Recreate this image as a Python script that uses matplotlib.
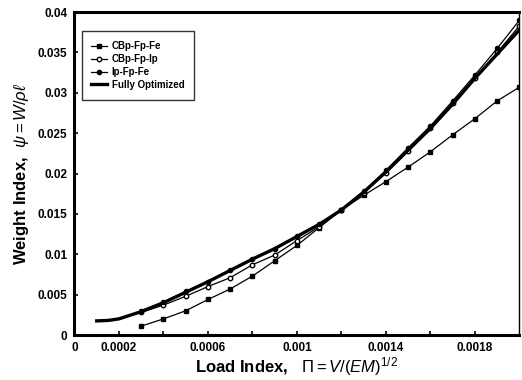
import matplotlib
matplotlib.use("Agg")
import matplotlib.pyplot as plt

plt.rcParams['font.family'] = ['Liberation Sans', 'DejaVu Sans']
plt.rcParams['mathtext.fontset'] = 'custom'
plt.rcParams['mathtext.rm'] = 'Liberation Sans'
plt.rcParams['mathtext.it'] = 'Liberation Sans:italic'
plt.rcParams['mathtext.bf'] = 'Liberation Sans:bold'

# load index values (x) and weight index values (y)
x_opt = [0.0001, 0.00015, 0.0002, 0.0003, 0.0004, 0.0005, 0.0006, 0.0007, 0.0008, 0.0009, 0.001,
         0.0011, 0.0012, 0.0013, 0.0014, 0.0015, 0.0016, 0.0017, 0.0018, 0.0019, 0.002]
y_opt = [0.00175, 0.0018, 0.0020, 0.0029, 0.0040, 0.0053, 0.0066, 0.0080, 0.0094, 0.0107, 0.0122,
         0.0137, 0.0155, 0.0177, 0.0202, 0.0229, 0.0256, 0.0286, 0.0318, 0.0348, 0.0378]

x_pts = [0.0003, 0.0004, 0.0005, 0.0006, 0.0007, 0.0008, 0.0009, 0.001, 0.0011,
         0.0012, 0.0013, 0.0014, 0.0015, 0.0016, 0.0017, 0.0018, 0.0019, 0.002]
y_cbp_fe = [0.0011, 0.0020, 0.0030, 0.0044, 0.0057, 0.0073, 0.0092, 0.0111, 0.0133,
            0.0155, 0.0173, 0.0190, 0.0208, 0.0227, 0.0248, 0.0268, 0.0290, 0.0307]
y_cbp_ip = [0.0028, 0.0037, 0.0048, 0.0060, 0.0071, 0.0087, 0.0099, 0.0117, 0.0134,
            0.0155, 0.0176, 0.0201, 0.0228, 0.0256, 0.0287, 0.0318, 0.0350, 0.0383]
y_ip_fe = [0.0030, 0.0041, 0.0054, 0.0066, 0.0080, 0.0094, 0.0106, 0.0123, 0.0138,
           0.0155, 0.0178, 0.0204, 0.0232, 0.0259, 0.0290, 0.0322, 0.0355, 0.0390]

x_ticks = [0, 0.0002, 0.0004, 0.0006, 0.0008, 0.001, 0.0012, 0.0014, 0.0016, 0.0018]
x_tick_labels = ['0', '0.0002', '', '0.0006', '', '0.001', '', '0.0014', '', '0.0018']
y_ticks = [0, 0.005, 0.01, 0.015, 0.02, 0.025, 0.03, 0.035, 0.04]
y_tick_labels = ['0', '0.005', '0.01', '0.015', '0.02', '0.025', '0.03', '0.035', '0.04']

fig = plt.figure(figsize=(5.22, 3.8), dpi=100)
ax = fig.add_axes([0.1427, 0.1184, 0.8525, 0.85])

ax.plot(x_pts, y_cbp_fe, color='black', lw=0.9, marker='s', ms=2.8, label='CBp-Fp-Fe')
ax.plot(x_pts, y_cbp_ip, color='black', lw=0.9, marker='o', ms=3.2, mfc='white', label='CBp-Fp-Ip')
ax.plot(x_pts, y_ip_fe, color='black', lw=0.9, marker='o', ms=3.0, label='Ip-Fp-Fe')
ax.plot(x_opt, y_opt, color='black', lw=2.4, label='Fully Optimized')

ax.set_xlim(0, 0.002)
ax.set_ylim(0, 0.04)
ax.set_xticks(x_ticks)
ax.set_xticklabels(x_tick_labels, fontweight='bold', fontsize=8.5)
ax.set_yticks(y_ticks)
ax.set_yticklabels(y_tick_labels, fontweight='bold', fontsize=8.5)
ax.tick_params(direction='in', length=3, width=1.2, pad=5)

for side in ['left', 'bottom', 'top']:
    ax.spines[side].set_linewidth(2.2)
ax.spines['right'].set_linewidth(1.0)

ax.set_xlabel(r'Load Index,   $\Pi = V/(EM)^{1/2}$', fontsize=12, fontweight='bold', labelpad=1)
ax.set_ylabel(r'Weight Index,  $\psi = W/\rho\ell$', fontsize=12, fontweight='bold', labelpad=5)

leg = ax.legend(loc='upper left', bbox_to_anchor=(0.005, 0.955), fontsize=7, frameon=True,
                fancybox=False, edgecolor='black', handlelength=1.6, handletextpad=0.5,
                labelspacing=0.3, borderpad=1.0)
leg.get_frame().set_linewidth(1.0)
for t in leg.get_texts():
    t.set_fontweight('bold')

fig.savefig('out.png', dpi=100)
